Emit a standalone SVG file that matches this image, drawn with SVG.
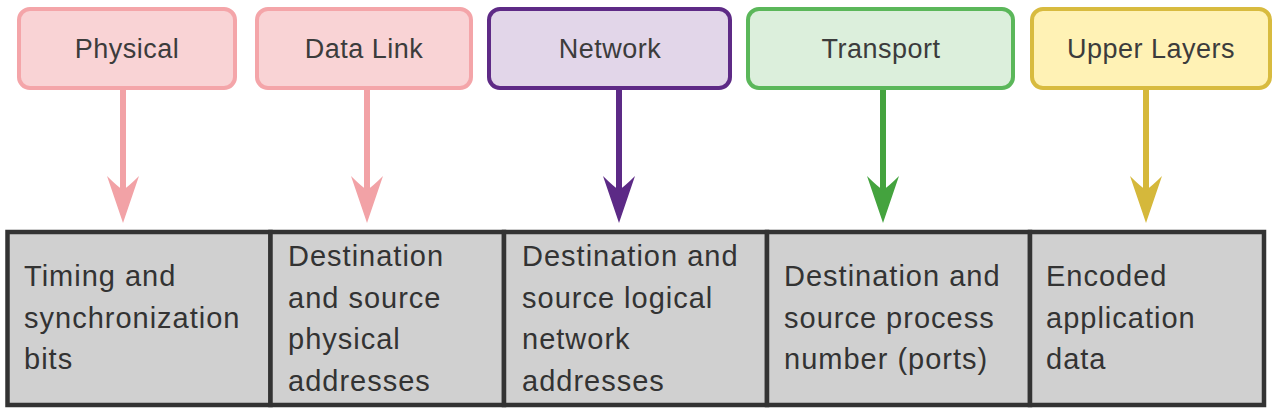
<svg xmlns="http://www.w3.org/2000/svg" xmlns:xlink="http://www.w3.org/1999/xlink" width="1274" height="416" viewBox="0 0 1274 416">
  <style>
    .box { stroke-width: 4; }
    .lbl { font-family: "Liberation Sans", Arial, sans-serif; font-size: 27px; letter-spacing: 0.5px; fill: #3c3c3c; text-anchor: middle; }
    .cell { fill: #d0d0d0; stroke: #333333; stroke-width: 4.5; }
    .txt { font-family: "Liberation Sans", Arial, sans-serif; font-size: 29px; letter-spacing: 1px; fill: #333333; }
    .shaft { stroke-width: 6; fill: none; }
    .pink { fill: #f9d3d5; stroke: #f4a5a9; }
    .purple { fill: #e2d6e9; stroke: #5e2a86; }
    .green { fill: #dcefdc; stroke: #5bb75a; }
    .yellow { fill: #fff2b5; stroke: #d8bb3f; }
  </style>
  <defs>
    <path id="head" d="M0,0 L-16,-47 Q-6,-37 0,-33 Q6,-37 16,-47 Z"/>
  </defs>

  <g id="node-physical">
    <rect class="box pink" x="19" y="9" width="216" height="79" rx="11"/>
    <text class="lbl" x="127" y="58">Physical</text>
  </g>
  <g id="node-datalink">
    <rect class="box pink" x="257" y="9" width="214" height="79" rx="11"/>
    <text class="lbl" x="364" y="58">Data Link</text>
  </g>
  <g id="node-network">
    <rect class="box purple" x="489" y="9" width="241" height="79" rx="11"/>
    <text class="lbl" x="610" y="58">Network</text>
  </g>
  <g id="node-transport">
    <rect class="box green" x="748" y="9" width="265" height="79" rx="11"/>
    <text class="lbl" x="881" y="58">Transport</text>
  </g>
  <g id="node-upper">
    <rect class="box yellow" x="1032" y="9" width="238" height="79" rx="11"/>
    <text class="lbl" x="1151" y="58">Upper Layers</text>
  </g>

  <g id="connectors">
    <line class="shaft" x1="123" y1="90" x2="123" y2="192" stroke="#f2a2a6"/>
    <use xlink:href="#head" x="123" y="223" fill="#f2a2a6"/>
    <line class="shaft" x1="367" y1="90" x2="367" y2="192" stroke="#f2a2a6"/>
    <use xlink:href="#head" x="367" y="223" fill="#f2a2a6"/>
    <line class="shaft" x1="619" y1="90" x2="619" y2="192" stroke="#5c2a86"/>
    <use xlink:href="#head" x="619" y="223" fill="#5c2a86"/>
    <line class="shaft" x1="883" y1="90" x2="883" y2="192" stroke="#44a33e"/>
    <use xlink:href="#head" x="883" y="223" fill="#44a33e"/>
    <line class="shaft" x1="1146" y1="90" x2="1146" y2="192" stroke="#d5b83b"/>
    <use xlink:href="#head" x="1146" y="223" fill="#d5b83b"/>
  </g>

  <g id="table">
    <g id="cell-physical">
      <rect class="cell" x="7.5" y="232" width="263" height="173"/>
      <text class="txt" x="24"><tspan x="24" y="286">Timing and</tspan><tspan x="24" y="327.5">synchronization</tspan><tspan x="24" y="369">bits</tspan></text>
    </g>
    <g id="cell-datalink">
      <rect class="cell" x="270.5" y="232" width="233.5" height="173"/>
      <text class="txt"><tspan x="288" y="266">Destination</tspan><tspan x="288" y="307.5">and source</tspan><tspan x="288" y="349">physical</tspan><tspan x="288" y="390.5">addresses</tspan></text>
    </g>
    <g id="cell-network">
      <rect class="cell" x="504" y="232" width="263" height="173"/>
      <text class="txt"><tspan x="522" y="266">Destination and</tspan><tspan x="522" y="307.5">source logical</tspan><tspan x="522" y="349">network</tspan><tspan x="522" y="390.5">addresses</tspan></text>
    </g>
    <g id="cell-transport">
      <rect class="cell" x="767" y="232" width="263" height="173"/>
      <text class="txt"><tspan x="784" y="286">Destination and</tspan><tspan x="784" y="327.5">source process</tspan><tspan x="784" y="369">number (ports)</tspan></text>
    </g>
    <g id="cell-upper">
      <rect class="cell" x="1030" y="232" width="234" height="173"/>
      <text class="txt"><tspan x="1046" y="286">Encoded</tspan><tspan x="1046" y="327.5">application</tspan><tspan x="1046" y="369">data</tspan></text>
    </g>
  </g>
</svg>
